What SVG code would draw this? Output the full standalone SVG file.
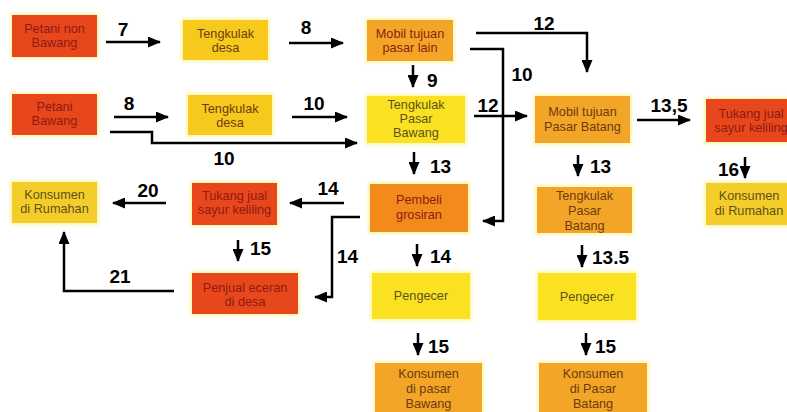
<svg xmlns="http://www.w3.org/2000/svg" width="787" height="412" viewBox="0 0 787 412">
<defs>
<marker id="ah" markerUnits="userSpaceOnUse" markerWidth="13" markerHeight="11" refX="12" refY="5.5" orient="auto">
<path d="M0,0 L13,5.5 L0,11 z" fill="#000"/>
</marker>
<filter id="glow" x="-10%" y="-10%" width="120%" height="120%">
<feMorphology in="SourceAlpha" operator="dilate" radius="2" result="d"/>
<feGaussianBlur in="d" stdDeviation="1.5" result="b"/>
<feFlood flood-color="#fff3a0" flood-opacity="0.8"/>
<feComposite in2="b" operator="in" result="g"/>
<feMerge><feMergeNode in="g"/><feMergeNode in="SourceGraphic"/></feMerge>
</filter>
<style>
.box{filter:url(#glow);}
.red{fill:#e8461c;}
.yel{fill:#f7c91e;}
.ylt{fill:#fae224;}
.org{fill:#f2a526;}
.dorg{fill:#f28b1a;}
.gold{fill:#f5cd2c;}
text{font-family:"Liberation Sans",Arial,sans-serif;}
.t{font-size:12.7px;text-anchor:middle;}
.tr{fill:#8e1a14;}
.ty{fill:#5c5218;}
.to{fill:#6e3a12;}
.lbl{font-size:19px;font-weight:bold;fill:#000;}
.c{text-anchor:middle;}
.ln{fill:none;stroke:#000;stroke-width:2.5;marker-end:url(#ah);}
</style>
</defs>
<rect width="787" height="412" fill="#fff"/>

<g id="connectors">
<path class="ln" d="M106 42 H160"/>
<path class="ln" d="M289 43 H343"/>
<path class="ln" d="M114 117 H168"/>
<path class="ln" d="M292 117 H347"/>
<path class="ln" d="M110 132 H152 V143 H357"/>
<path class="ln" d="M413 65 V87"/>
<path class="ln" d="M476 33 H587 V72"/>
<path class="ln" d="M470 49 H503 V221 H483"/>
<path class="ln" d="M474 116 H527"/>
<path class="ln" d="M637 120 H690"/>
<path class="ln" d="M414 152 V174"/>
<path class="ln" d="M578 155 V176"/>
<path class="ln" d="M745 157 V178"/>
<path class="ln" d="M417 244 V266"/>
<path class="ln" d="M582 245 V267"/>
<path class="ln" d="M418 333 V355"/>
<path class="ln" d="M586 333 V355"/>
<path class="ln" d="M166 203 H113"/>
<path class="ln" d="M344 203 H290"/>
<path class="ln" d="M360 217 H332 V297 H315"/>
<path class="ln" d="M238 240 V261"/>
<path class="ln" d="M174 291 H64 V232"/>
<text class="lbl c" x="123" y="36">7</text>
<text class="lbl c" x="306" y="34">8</text>
<text class="lbl c" x="129" y="110">8</text>
<text class="lbl c" x="314" y="110">10</text>
<text class="lbl c" x="224" y="165">10</text>
<text class="lbl c" x="544" y="30">12</text>
<text class="lbl c" x="522" y="81">10</text>
<text class="lbl" x="427" y="87">9</text>
<text class="lbl c" x="488" y="112">12</text>
<text class="lbl c" x="669" y="112">13,5</text>
<text class="lbl" x="430" y="173">13</text>
<text class="lbl" x="590" y="173">13</text>
<text class="lbl" x="718" y="176">16</text>
<text class="lbl" x="430" y="263">14</text>
<text class="lbl" x="592" y="264">13.5</text>
<text class="lbl c" x="328" y="195">14</text>
<text class="lbl" x="337" y="263">14</text>
<text class="lbl c" x="148" y="197">20</text>
<text class="lbl" x="250" y="255">15</text>
<text class="lbl c" x="120" y="283">21</text>
<text class="lbl" x="428" y="353">15</text>
<text class="lbl" x="595" y="353">15</text>
</g>

<g id="petani-non-bawang"><rect class="box red" x="12" y="15" width="85" height="42"/><text class="t tr" x="54.5" y="33">Petani non</text><text class="t tr" x="54.5" y="47">Bawang</text></g>
<g id="tengkulak-desa-1"><rect class="box yel" x="183" y="20" width="85" height="40"/><text class="t to" x="225.5" y="38">Tengkulak</text><text class="t to" x="225.5" y="52">desa</text></g>
<g id="mobil-pasar-lain"><rect class="box org" x="367" y="20" width="86" height="41"/><text class="t tr" x="410" y="38">Mobil tujuan</text><text class="t tr" x="410" y="52">pasar lain</text></g>
<g id="petani-bawang"><rect class="box red" x="12" y="94" width="85" height="41"/><text class="t tr" x="54.5" y="111">Petani</text><text class="t tr" x="54.5" y="125">Bawang</text></g>
<g id="tengkulak-desa-2"><rect class="box yel" x="188" y="95" width="84" height="40"/><text class="t to" x="230" y="113">Tengkulak</text><text class="t to" x="230" y="127">desa</text></g>
<g id="tengkulak-pasar-bawang"><rect class="box ylt" x="367" y="96" width="98" height="47"/><text class="t ty" x="416" y="109">Tengkulak</text><text class="t ty" x="416" y="123">Pasar</text><text class="t ty" x="416" y="137">Bawang</text></g>
<g id="mobil-pasar-batang"><rect class="box org" x="535" y="96" width="95" height="47"/><text class="t to" x="582.5" y="116">Mobil tujuan</text><text class="t to" x="582.5" y="131">Pasar Batang</text></g>
<g id="tukang-jual-kanan"><rect class="box red" x="706" y="99" width="95" height="43"/><text class="t tr" x="751" y="118">Tukang jual</text><text class="t tr" x="751" y="132">sayur keliling</text></g>
<g id="konsumen-rumahan-kanan"><rect class="box gold" x="706" y="183" width="95" height="42"/><text class="t ty" x="749" y="200">Konsumen</text><text class="t ty" x="749" y="215">di Rumahan</text></g>
<g id="pembeli-grosiran"><rect class="box dorg" x="370" y="184" width="98" height="48"/><text class="t tr" x="419" y="204">Pembeli</text><text class="t tr" x="419" y="219">grosiran</text></g>
<g id="tengkulak-pasar-batang"><rect class="box org" x="537" y="187" width="95" height="46"/><text class="t to" x="584.5" y="200">Tengkulak</text><text class="t to" x="584.5" y="215">Pasar</text><text class="t to" x="584.5" y="230">Batang</text></g>
<g id="konsumen-rumahan-kiri"><rect class="box gold" x="12" y="182" width="85" height="41"/><text class="t ty" x="54.5" y="199">Konsumen</text><text class="t ty" x="54.5" y="213">di Rumahan</text></g>
<g id="tukang-jual-kiri"><rect class="box red" x="192" y="183" width="85" height="42"/><text class="t tr" x="234.5" y="200">Tukang jual</text><text class="t tr" x="234.5" y="214">sayur keliling</text></g>
<g id="penjual-eceran"><rect class="box red" x="192" y="273" width="106" height="41"/><text class="t tr" x="245" y="292">Penjual eceran</text><text class="t tr" x="245" y="306">di desa</text></g>
<g id="pengecer-1"><rect class="box ylt" x="372" y="273" width="98" height="46"/><text class="t ty" x="421" y="300">Pengecer</text></g>
<g id="pengecer-2"><rect class="box ylt" x="538" y="273" width="98" height="47"/><text class="t ty" x="587" y="301">Pengecer</text></g>
<g id="konsumen-pasar-bawang"><rect class="box org" x="375" y="363" width="107" height="55"/><text class="t to" x="428.5" y="378">Konsumen</text><text class="t to" x="428.5" y="393">di pasar</text><text class="t to" x="428.5" y="408">Bawang</text></g>
<g id="konsumen-pasar-batang"><rect class="box org" x="539" y="363" width="108" height="55"/><text class="t to" x="593" y="378">Konsumen</text><text class="t to" x="593" y="393">di Pasar</text><text class="t to" x="593" y="408">Batang</text></g>
</svg>
